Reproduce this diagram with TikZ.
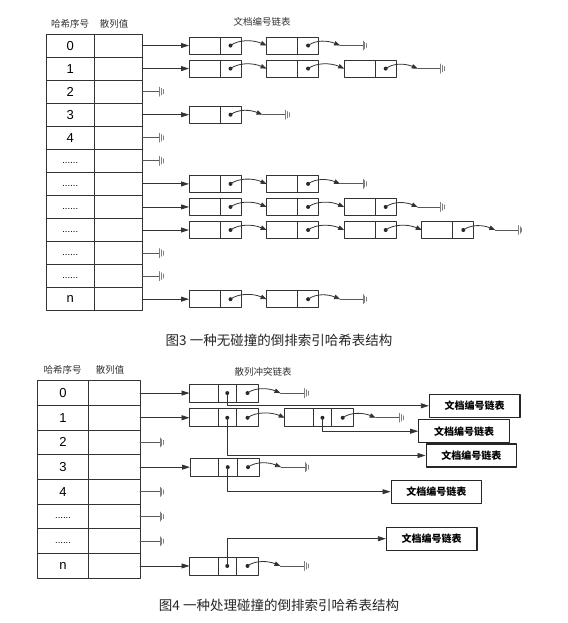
\documentclass[tikz,border=0pt]{standalone}
\usepackage{fontspec}
\setmainfont{Liberation Sans}
\newfontfamily\cjk{Noto Sans CJK SC}
\usetikzlibrary{arrows.meta,calc,positioning}

\newcommand{\rowdots}{{\fontsize{9.5}{11}\selectfont\strut......}}

\tikzset{
  tabcell/.style={draw=black!80, line width=0.9pt, inner sep=0pt, outer sep=0pt, font=\fontsize{13}{15}\selectfont},
  listcell/.style={draw=black!80, line width=0.9pt, inner sep=0pt, outer sep=0pt},
  docbox/.style={draw=black!85, line width=1.1pt, minimum width=90.5pt, minimum height=23pt, inner sep=0pt, font=\cjk\bfseries\fontsize{10}{12}\selectfont},
  colhead/.style={font=\cjk\fontsize{9.5}{11}\selectfont, text=black!80},
  figcap/.style={font=\cjk\fontsize{13.5}{16}\selectfont, text=black!85},
  tabarrow/.style={draw=black!80, line width=0.8pt, -{Triangle[length=8pt,width=5pt]}},
  nextptr/.style={draw=black!80, line width=0.8pt, -{Triangle[length=6pt,width=4.5pt]}},
  stub/.style={draw=black!65, line width=0.9pt},
  gnd/.pic={\draw[black!50, line width=0.9pt] (0,-4.5) -- (0,4.5) (1.8,-3.2) -- (1.8,3.2) (3.6,-2) -- (3.6,2);}
}

\begin{document}
\begin{tikzpicture}[x=1pt, y=-1pt, line join=round, line cap=round]
    \useasboundingbox (0,0) rectangle (567,623);

    % figure 3: hash table without collisions
    \node[colhead] (t-hd1) at (70,24) {哈希序号};
    \node[colhead] (t-hd2) at (114,24) {散列值};
    \node[colhead] (t-hd3) at (262,22) {文档编号链表};

    \foreach \lab [count=\ri from 0] in {0,1,2,3,4,\rowdots,\rowdots,\rowdots,\rowdots,\rowdots,\rowdots,n}
    {
        \node[tabcell, minimum width=47.5pt, minimum height=23.06pt] (h\ri) at (70.25,{45.53+23.06*\ri}) {\lab};
        \node[tabcell, minimum width=48.5pt, minimum height=23.06pt] (v\ri) at (118.25,{45.53+23.06*\ri}) {};
    }

    \foreach \ri/\nn in {0/2,1/3,3/1,6/2,7/3,8/4,11/2}
    {
        \foreach \ci in {1,...,\nn}
        {
            \node[listcell, minimum width=31pt, minimum height=17pt, anchor=west] (r\ri-\ci-a) at ({189+77.6*(\ci-1)},0 |- v\ri) {};
            \node[listcell, minimum width=21pt, minimum height=17pt, right=0pt of r\ri-\ci-a] (r\ri-\ci-b) {};
            \fill[black!85] (r\ri-\ci-b) circle (2pt);
        }
        \draw[tabarrow] (v\ri.east) -- (r\ri-1-a.west);
        \foreach \ci in {1,...,\nn}
        {
            \ifnum\ci<\nn
                \pgfmathtruncatemacro\cn{\ci+1}
                \draw[nextptr] (r\ri-\ci-b.center) .. controls +(8,-6) and +(-14,-6) .. (r\ri-\cn-a.west);
            \else
                \coordinate (r\ri-end) at ($(r\ri-\ci-b.center)+(32,0)$);
                \draw[nextptr] (r\ri-\ci-b.center) .. controls +(8,-6) and +(-12,-5) .. (r\ri-end);
                \draw[stub] (r\ri-end) -- ++(23,0) coordinate (r\ri-gnd);
                \pic at (r\ri-gnd) {gnd};
            \fi
        }
    }

    \foreach \ri in {2,4,5,9,10}
    {
        \draw[stub] (v\ri.east) -- ++(17,0) coordinate (v\ri-gnd);
        \pic at (v\ri-gnd) {gnd};
    }

    \node[figcap] (cap3) at (279,340) {图3 一种无碰撞的倒排索引哈希表结构};

    % figure 4: hash table with collision chains
    \node[colhead] (b-hd1) at (62.5,370) {哈希序号};
    \node[colhead] (b-hd2) at (110,370) {散列值};
    \node[colhead] (b-hd3) at (263,371.5) {散列冲突链表};

    \foreach \lab [count=\ri from 0] in {0,1,2,3,4,\rowdots,\rowdots,n}
    {
        \node[tabcell, minimum width=51.2pt, minimum height=24.7pt] (H\ri) at (63.1,{393.05+24.7*\ri}) {\lab};
        \node[tabcell, minimum width=51.3pt, minimum height=24.7pt] (V\ri) at (114.35,{393.05+24.7*\ri}) {};
    }

    \foreach \nm/\x/\ri in {q0/189.5/0,q1/189.5/1,p1/284.7/1,q3/190/3,q7/189.5/7}
    {
        \node[listcell, minimum width=28.5pt, minimum height=18pt, anchor=west] (\nm-a) at (\x,0 |- V\ri) {};
        \node[listcell, minimum width=18.5pt, minimum height=18pt, right=0pt of \nm-a] (\nm-b) {};
        \node[listcell, minimum width=22pt, minimum height=18pt, right=0pt of \nm-b] (\nm-c) {};
        \fill[black!85] (\nm-b) circle (2pt) (\nm-c) circle (2pt);
    }

    \foreach \ri/\nm in {0/q0,1/q1,3/q3,7/q7}
        \draw[tabarrow] (V\ri.east) -- (\nm-a.west);
    \draw[nextptr] (q1-c.center) .. controls +(8,-6) and +(-14,-6) .. (p1-a.west);

    \foreach \nm in {q0,p1,q3,q7}
    {
        \coordinate (\nm-end) at ($(\nm-c.center)+(33,0)$);
        \draw[nextptr] (\nm-c.center) .. controls +(8,-6) and +(-12,-5) .. (\nm-end);
        \draw[stub] (\nm-end) -- ++(24,0) coordinate (\nm-gnd);
        \pic at (\nm-gnd) {gnd};
    }

    \foreach \ri in {2,4,5,6}
    {
        \draw[stub] (V\ri.east) -- ++(20,0) coordinate (V\ri-gnd);
        \pic at (V\ri-gnd) {gnd};
    }

    \node[docbox] (d1) at (474.7,405.8) {文档编号链表};
    \node[docbox] (d2) at (464,431.2) {文档编号链表};
    \node[docbox] (d3) at (471.3,455.5) {文档编号链表};
    \node[docbox] (d4) at (436.3,491.7) {文档编号链表};
    \node[docbox] (d5) at (431.7,538.7) {文档编号链表};

    \draw[tabarrow] (q0-b.center) |- (d1.west);
    \draw[tabarrow] (p1-b.center) |- (d2.west);
    \draw[tabarrow] (q1-b.center) |- (d3.west);
    \draw[tabarrow] (q3-b.center) |- (d4.west);
    \draw[tabarrow] (q7-b.center) |- (d5.west);

    \node[figcap] (cap4) at (279,605) {图4 一种处理碰撞的倒排索引哈希表结构};
\end{tikzpicture}
\end{document}
